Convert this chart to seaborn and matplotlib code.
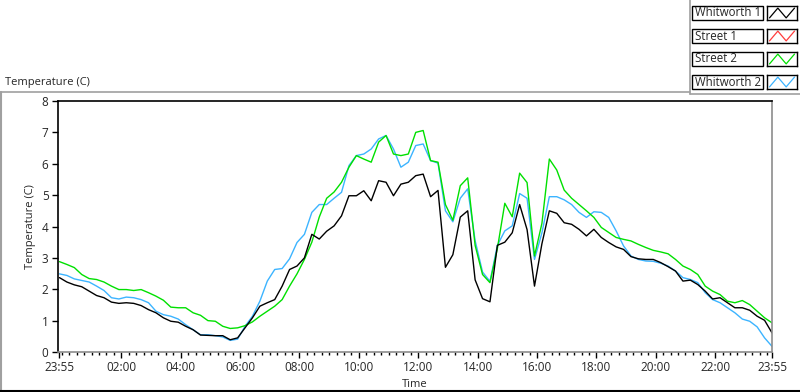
import numpy as np
import pandas as pd
import matplotlib
matplotlib.use("Agg")
import matplotlib.pyplot as plt
import seaborn as sns
from matplotlib.lines import Line2D
from matplotlib.patches import Rectangle

# samples every 15 minutes, counted in hours after 23:55
hours = np.arange(97) * 0.25

whitworth_1 = [
    2.37, 2.23, 2.14, 2.08, 1.94, 1.80, 1.73, 1.59,
    1.55, 1.57, 1.55, 1.48, 1.35, 1.25, 1.09, 0.98,
    0.95, 0.82, 0.71, 0.54, 0.53, 0.52, 0.52, 0.39,
    0.45, 0.77, 1.09, 1.46, 1.57, 1.67, 2.10, 2.63,
    2.74, 3.00, 3.75, 3.60, 3.85, 4.02, 4.34, 4.98,
    4.98, 5.14, 4.82, 5.46, 5.41, 4.98, 5.35, 5.41,
    5.62, 5.67, 4.95, 5.15, 2.70, 3.10, 4.30, 4.50,
    2.30, 1.70, 1.60, 3.40, 3.50, 3.80, 4.70, 3.90,
    2.10, 3.45, 4.50, 4.42, 4.12, 4.07, 3.91, 3.70,
    3.91, 3.65, 3.49, 3.35, 3.27, 3.04, 2.97, 2.95,
    2.95, 2.85, 2.72, 2.58, 2.26, 2.29, 2.15, 1.94,
    1.69, 1.73, 1.57, 1.41, 1.41, 1.33, 1.14, 1.01,
    0.61,
]
street_2 = [
    2.88, 2.79, 2.69, 2.47, 2.34, 2.31, 2.23, 2.10,
    1.99, 1.99, 1.96, 1.99, 1.89, 1.78, 1.65, 1.43,
    1.41, 1.41, 1.25, 1.17, 1.00, 0.98, 0.82, 0.75,
    0.77, 0.84, 0.96, 1.14, 1.30, 1.46, 1.67, 2.10,
    2.49, 2.95, 3.50, 4.30, 4.90, 5.10, 5.41, 5.89,
    6.26, 6.15, 6.05, 6.69, 6.90, 6.31, 6.26, 6.31,
    7.00, 7.06, 6.10, 6.05, 4.70, 4.20, 5.30, 5.55,
    3.40, 2.47, 2.21, 3.30, 4.74, 4.31, 5.70, 5.40,
    3.06, 4.10, 6.15, 5.80, 5.16, 4.90, 4.70, 4.50,
    4.29, 3.97, 3.81, 3.65, 3.59, 3.54, 3.43, 3.33,
    3.24, 3.19, 3.13, 2.95, 2.74, 2.63, 2.47, 2.10,
    1.94, 1.83, 1.62, 1.57, 1.64, 1.51, 1.30, 1.09,
    0.93,
]
whitworth_2 = [
    2.49, 2.44, 2.33, 2.28, 2.23, 2.10, 1.96, 1.73,
    1.69, 1.75, 1.73, 1.67, 1.57, 1.30, 1.19, 1.14,
    1.05, 0.87, 0.71, 0.55, 0.55, 0.52, 0.48, 0.37,
    0.41, 0.82, 1.14, 1.62, 2.26, 2.63, 2.66, 2.97,
    3.49, 3.75, 4.45, 4.70, 4.70, 4.90, 5.09, 5.94,
    6.26, 6.31, 6.47, 6.79, 6.90, 6.47, 5.89, 6.05,
    6.58, 6.63, 6.10, 6.02, 4.50, 4.15, 4.90, 5.20,
    3.55, 2.55, 2.25, 3.40, 3.86, 4.02, 5.05, 4.90,
    2.95, 3.80, 4.95, 4.95, 4.85, 4.70, 4.45, 4.29,
    4.47, 4.45, 4.29, 3.86, 3.38, 3.06, 2.95, 2.90,
    2.89, 2.83, 2.74, 2.58, 2.37, 2.31, 2.21, 1.89,
    1.67, 1.57, 1.41, 1.25, 1.05, 0.98, 0.80, 0.45,
    0.18,
]

series_names = ["Whitworth 1", "Street 1", "Street 2", "Whitworth 2"]
series_colors = ["#000000", "#ff3c3c", "#00e000", "#3cb4ff"]

tick_labels = ["23:55", "02:00", "04:00", "06:00", "08:00", "10:00", "12:00",
               "14:00", "16:00", "18:00", "20:00", "22:00", "23:55"]
y_ticks = [0, 1, 2, 3, 4, 5, 6, 7, 8]

# long table for seaborn (Street 1 has no visible trace)
df = pd.concat([
    pd.DataFrame({"time": hours, "temp": whitworth_2, "sensor": "Whitworth 2"}),
    pd.DataFrame({"time": hours, "temp": street_2, "sensor": "Street 2"}),
    pd.DataFrame({"time": hours, "temp": whitworth_1, "sensor": "Whitworth 1"}),
])
palette = dict(zip(series_names, series_colors))


def start_offset(label):
    h, m = label.split(":")
    return ((int(h) * 60 + int(m)) - (23 * 60 + 55)) % 1440 / 60


tick_pos = [0] + [start_offset(t) for t in tick_labels[1:-1]] + [24]

sns.set_style("ticks")
plt.rcParams["font.family"] = ["Open Sans", "DejaVu Sans"]
plt.rcParams["font.size"] = 8

W, H = 800, 392
fig = plt.figure(figsize=(W / 100, H / 100), dpi=100)
fig.patch.set_facecolor("white")


def fx(x):
    return x / W


def fy(y):
    return 1 - y / H


ax = fig.add_axes([fx(58), fy(352), fx(772) - fx(58), fy(101) - fy(352)])
sns.lineplot(data=df, x="time", y="temp", hue="sensor", palette=palette,
             hue_order=["Whitworth 2", "Street 2", "Whitworth 1"],
             estimator=None, sort=False, linewidth=1.0, legend=False, ax=ax)

ax.set_xlim(-0.05, 24)
ax.set_ylim(0, 8)
ax.set_xticks(tick_pos)
ax.set_xticklabels(tick_labels)
ax.set_xticks(np.arange(1 / 12, 24, 0.25), minor=True)
ax.set_yticks(y_ticks)
ax.tick_params(axis="both", which="major", direction="out", length=4.3, width=1,
               color="black", labelsize=8.5, pad=2.5)
ax.tick_params(axis="x", which="minor", direction="out", length=2.5, width=1, color="black")
ax.set_xlabel("Time", fontsize=8, labelpad=3)
ax.set_ylabel("Temperature (C)", fontsize=8, labelpad=4)

for side in ["left", "top"]:
    ax.spines[side].set_visible(True)
    ax.spines[side].set_color("black")
    ax.spines[side].set_linewidth(1.2)
for side in ["right", "bottom"]:
    ax.spines[side].set_visible(True)
    ax.spines[side].set_color("#8c8c8c")
    ax.spines[side].set_linewidth(1.2)

# outer panel frame
fig.add_artist(Line2D([fx(0), fx(690)], [fy(92), fy(92)], color="#a0a0a0", lw=1.2))
fig.add_artist(Line2D([fx(690), fx(690)], [fy(0), fy(94)], color="#a0a0a0", lw=1.2))
fig.add_artist(Line2D([fx(690), fx(800)], [fy(94), fy(94)], color="#a0a0a0", lw=1.2))
fig.add_artist(Line2D([fx(1), fx(1)], [fy(92), fy(392)], color="#a0a0a0", lw=1.5))
fig.add_artist(Line2D([fx(0), fx(800)], [fy(391), fy(391)], color="black", lw=1.5))

fig.text(fx(5), fy(82), "Temperature (C)", fontsize=8, va="center", ha="left")

# LabVIEW-style plot legend
row_centers = [13, 36, 59, 82]
for name, color, c in zip(series_names, series_colors, row_centers):
    fig.add_artist(Rectangle((fx(692), fy(c + 7)), fx(763) - fx(692), fy(c - 7) - fy(c + 7),
                             transform=fig.transFigure, facecolor="white",
                             edgecolor="black", lw=1))
    fig.text(fx(695), fy(c), name, fontsize=8.3, va="center", ha="left")
    sw = fig.add_axes([fx(767), fy(c + 7), fx(797) - fx(767), fy(c - 7) - fy(c + 7)])
    sw.plot([0, 1, 2, 3], [0.15, 0.85, 0.15, 0.85], color=color, lw=0.9)
    sw.set_xlim(-0.3, 3.3)
    sw.set_ylim(0, 1)
    sw.set_xticks([])
    sw.set_yticks([])
    for s in sw.spines.values():
        s.set_color("black")
        s.set_linewidth(1)

fig.savefig("out.png", dpi=100)
